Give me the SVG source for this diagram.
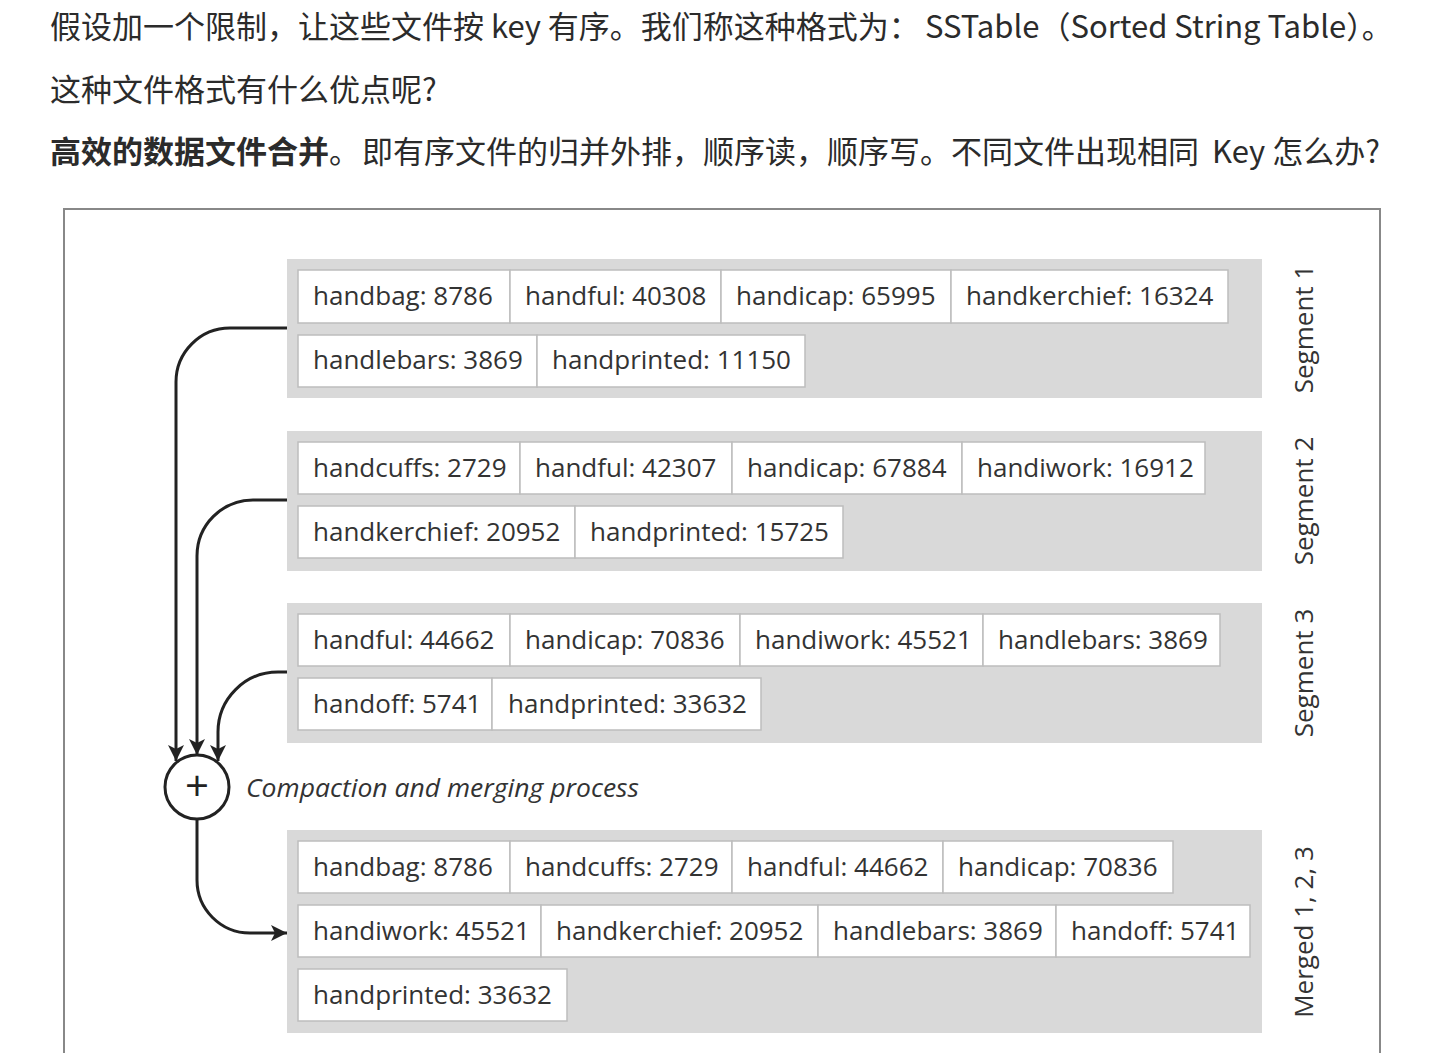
<svg xmlns="http://www.w3.org/2000/svg" width="1439" height="1053" viewBox="0 0 1439 1053">
<style>
.cn{font-family:"Noto Sans CJK SC","Noto Sans",sans-serif;font-size:31px;fill:#2b2b2b}
.b{font-weight:bold}
.panel{fill:#d9d9d9}
.kv{fill:#ffffff;stroke:#bdbdbd;stroke-width:1.5}
.kt{font-family:"Open Sans","Noto Sans",sans-serif;font-size:26px;fill:#333}
.lab{font-family:"Open Sans","Noto Sans",sans-serif;font-size:26px;fill:#333;text-anchor:middle}
.conn{fill:none;stroke:#222;stroke-width:3}
</style>
<defs>
<marker id="ah" markerUnits="userSpaceOnUse" markerWidth="18" markerHeight="18" viewBox="0 -9 17 18" refX="16" refY="0" orient="auto">
<path d="M0,-8 L16,0 L0,8 L4,0 z" fill="#222"/>
</marker>
</defs>
<rect width="1439" height="1053" fill="#ffffff"/>
<g id="intro">
<text class="cn" x="50" y="38">假设加一个限制，让这些文件按 key 有序。我们称这种格式为：<tspan x="925">SSTable（Sorted String Table）。</tspan></text>
<text class="cn" x="50" y="101">这种文件格式有什么优点呢?</text>
<text class="cn" x="50" y="163"><tspan class="b">高效的数据文件合并</tspan>。<tspan x="362">即有序文件的归并外排，顺序读，顺序写。不同文件出现相同</tspan><tspan x="1212">Key 怎么办?</tspan></text>
</g>
<rect id="frame" x="64" y="209" width="1316" height="860" fill="#ffffff" stroke="#888" stroke-width="2"/>
<g id="segment1">
<rect class="panel" x="287" y="259" width="975" height="139"/>
<rect class="kv" x="298" y="270" width="212" height="53"/><text class="kt" x="313" y="305">handbag: 8786</text>
<rect class="kv" x="510" y="270" width="211" height="53"/><text class="kt" x="525" y="305">handful: 40308</text>
<rect class="kv" x="721" y="270" width="230" height="53"/><text class="kt" x="736" y="305">handicap: 65995</text>
<rect class="kv" x="951" y="270" width="277" height="53"/><text class="kt" x="966" y="305">handkerchief: 16324</text>
<rect class="kv" x="298" y="335" width="239" height="52"/><text class="kt" x="313" y="369">handlebars: 3869</text>
<rect class="kv" x="537" y="335" width="268" height="52"/><text class="kt" x="552" y="369">handprinted: 11150</text>
<text class="lab" transform="translate(1313,329) rotate(-90)">Segment 1</text>
</g>
<g id="segment2">
<rect class="panel" x="287" y="431" width="975" height="140"/>
<rect class="kv" x="298" y="442" width="222" height="52"/><text class="kt" x="313" y="477">handcuffs: 2729</text>
<rect class="kv" x="520" y="442" width="212" height="52"/><text class="kt" x="535" y="477">handful: 42307</text>
<rect class="kv" x="732" y="442" width="230" height="52"/><text class="kt" x="747" y="477">handicap: 67884</text>
<rect class="kv" x="962" y="442" width="243" height="52"/><text class="kt" x="977" y="477">handiwork: 16912</text>
<rect class="kv" x="298" y="506" width="277" height="52"/><text class="kt" x="313" y="541">handkerchief: 20952</text>
<rect class="kv" x="575" y="506" width="268" height="52"/><text class="kt" x="590" y="541">handprinted: 15725</text>
<text class="lab" transform="translate(1313,501) rotate(-90)">Segment 2</text>
</g>
<g id="segment3">
<rect class="panel" x="287" y="603" width="975" height="140"/>
<rect class="kv" x="298" y="614" width="212" height="52"/><text class="kt" x="313" y="649">handful: 44662</text>
<rect class="kv" x="510" y="614" width="230" height="52"/><text class="kt" x="525" y="649">handicap: 70836</text>
<rect class="kv" x="740" y="614" width="243" height="52"/><text class="kt" x="755" y="649">handiwork: 45521</text>
<rect class="kv" x="983" y="614" width="237" height="52"/><text class="kt" x="998" y="649">handlebars: 3869</text>
<rect class="kv" x="298" y="678" width="194" height="52"/><text class="kt" x="313" y="713">handoff: 5741</text>
<rect class="kv" x="492" y="678" width="269" height="52"/><text class="kt" x="508" y="713">handprinted: 33632</text>
<text class="lab" transform="translate(1313,673) rotate(-90)">Segment 3</text>
</g>
<g id="merge">
<circle cx="197" cy="787" r="32" fill="#fff" stroke="#222" stroke-width="3"/>
<text x="197" y="801" font-family="Open Sans, sans-serif" font-size="42" fill="#222" text-anchor="middle">+</text>
<text x="246" y="797" font-family="Open Sans, sans-serif" font-size="26" font-style="italic" fill="#333" textLength="393" lengthAdjust="spacingAndGlyphs">Compaction and merging process</text>
</g>
<g id="merged">
<rect class="panel" x="287" y="830" width="975" height="203"/>
<rect class="kv" x="298" y="841" width="212" height="52"/><text class="kt" x="313" y="876">handbag: 8786</text>
<rect class="kv" x="510" y="841" width="222" height="52"/><text class="kt" x="525" y="876">handcuffs: 2729</text>
<rect class="kv" x="732" y="841" width="211" height="52"/><text class="kt" x="747" y="876">handful: 44662</text>
<rect class="kv" x="943" y="841" width="230" height="52"/><text class="kt" x="958" y="876">handicap: 70836</text>
<rect class="kv" x="298" y="905" width="243" height="52"/><text class="kt" x="313" y="940">handiwork: 45521</text>
<rect class="kv" x="541" y="905" width="277" height="52"/><text class="kt" x="556" y="940">handkerchief: 20952</text>
<rect class="kv" x="818" y="905" width="238" height="52"/><text class="kt" x="833" y="940">handlebars: 3869</text>
<rect class="kv" x="1056" y="905" width="194" height="52"/><text class="kt" x="1071" y="940">handoff: 5741</text>
<rect class="kv" x="298" y="969" width="269" height="52"/><text class="kt" x="313" y="1004">handprinted: 33632</text>
<text class="lab" transform="translate(1313,932) rotate(-90)">Merged 1, 2, 3</text>
</g>
<g id="connectors">
<path class="conn" d="M287,328 H230 A54,54 0 0 0 176,382 V761" marker-end="url(#ah)"/>
<path class="conn" d="M287,500 H253 A56,56 0 0 0 197,556 V755" marker-end="url(#ah)"/>
<path class="conn" d="M287,672 H278 A60,60 0 0 0 218,732 V761" marker-end="url(#ah)"/>
<path class="conn" d="M197,819 V880 A53,53 0 0 0 250,933 H287" marker-end="url(#ah)"/>
</g>
</svg>
